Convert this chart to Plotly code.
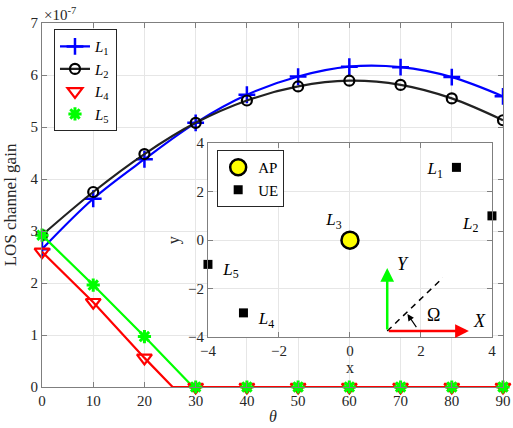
import plotly.graph_objects as go

# main plot data (gain in units of 1e-7)
theta = [0, 10, 20, 30, 40, 50, 60, 70, 80, 90]
gain_L1 = [2.65, 3.62, 4.38, 5.08, 5.62, 5.97, 6.16, 6.15, 5.96, 5.59]
gain_L2 = [2.92, 3.75, 4.48, 5.08, 5.51, 5.78, 5.89, 5.81, 5.55, 5.13]
gain_L4 = [2.60, 1.63, 0.56, 0, 0, 0, 0, 0, 0, 0]
gain_L5 = [2.92, 1.96, 0.97, 0, 0, 0, 0, 0, 0, 0]
# same curves with the point where they reach zero
theta_L4_line = [0, 10, 20, 25.5, 30, 40, 50, 60, 70, 80, 90]
gain_L4_line = [2.60, 1.63, 0.56, 0, 0, 0, 0, 0, 0, 0, 0]
theta_L5_line = [0, 10, 20, 29.5, 30, 40, 50, 60, 70, 80, 90]
gain_L5_line = [2.92, 1.96, 0.97, 0, 0, 0, 0, 0, 0, 0, 0]

# inset layout data
ap_x = [0]
ap_y = [0]
ue_x = [3, 4, -3, -4]
ue_y = [3, 1, -3, -1]
label_text = ["<i>L</i><sub>1</sub>", "<i>L</i><sub>2</sub>", "<i>L</i><sub>3</sub>",
              "<i>L</i><sub>4</sub>", "<i>L</i><sub>5</sub>"]
label_x = [2.4, 3.4, -0.45, -2.35, -3.35]
label_y = [2.9, 0.65, 0.8, -3.3, -1.25]

FONT = "Times New Roman"
AXC = "#262626"

fig = go.Figure()

fig.add_trace(go.Scatter(x=theta, y=gain_L1, mode="lines+markers", line=dict(color="#0000ff", width=2.2, shape="spline"),
                         marker=dict(symbol="cross-thin-open", size=12, color="#0000ff", line=dict(color="#0000ff", width=2.5)),
                         name="<i>L</i><sub>1</sub>"))
fig.add_trace(go.Scatter(x=theta, y=gain_L2, mode="lines+markers", line=dict(color="#222222", width=2.2, shape="spline"),
                         marker=dict(symbol="circle-open", size=10, color="#000000", line=dict(color="#000000", width=2.2)),
                         name="<i>L</i><sub>2</sub>"))
fig.add_trace(go.Scatter(x=theta_L5_line, y=gain_L5_line, mode="lines", line=dict(color="#00ff00", width=2.2),
                         showlegend=False, cliponaxis=False))
fig.add_trace(go.Scatter(x=theta_L4_line, y=gain_L4_line, mode="lines", line=dict(color="#ff0000", width=2.2),
                         showlegend=False, cliponaxis=False))
fig.add_trace(go.Scatter(x=theta, y=gain_L4, mode="markers", cliponaxis=False,
                         marker=dict(symbol="triangle-down-open", size=13, color="#ff0000",
                                     line=dict(color="#ff0000", width=2.2)),
                         name="<i>L</i><sub>4</sub>"))
fig.add_trace(go.Scatter(x=theta, y=gain_L5, mode="markers", cliponaxis=False,
                         marker=dict(symbol="asterisk-open", size=11, color="#00ff00",
                                     line=dict(color="#00ff00", width=3)),
                         name="<i>L</i><sub>5</sub>"))

# inset
fig.add_trace(go.Scatter(x=ap_x, y=ap_y, mode="markers", xaxis="x2", yaxis="y2", legend="legend2", name="AP",
                         marker=dict(symbol="circle", size=17, color="#ffff00", line=dict(color="#000000", width=2.5))))
fig.add_trace(go.Scatter(x=ue_x, y=ue_y, mode="markers", xaxis="x2", yaxis="y2", legend="legend2", name="UE",
                         cliponaxis=False, marker=dict(symbol="square", size=9, color="#000000")))
fig.add_trace(go.Scatter(x=label_x, y=label_y, mode="text", text=label_text, xaxis="x2", yaxis="y2",
                         showlegend=False, cliponaxis=False,
                         textfont=dict(family=FONT, size=17, color="#000000")))
# dashed reference line of the coordinate sketch
fig.add_trace(go.Scatter(x=[1.05, 2.62], y=[-3.75, -1.55], mode="lines", xaxis="x2", yaxis="y2",
                         showlegend=False, line=dict(color="#000000", width=1.5, dash="6px,5px")))

arrows = [
    dict(x=1.05, y=-1.15, ax=1.05, ay=-3.75, color="#00ff00", w=2.5),
    dict(x=3.35, y=-3.75, ax=1.05, ay=-3.75, color="#ff0000", w=2.5),
    dict(x=1.62, y=-3.05, ax=1.9, ay=-3.65, color="#000000", w=1.2),
]
for a in arrows:
    fig.add_annotation(x=a["x"], y=a["y"], ax=a["ax"], ay=a["ay"], xref="x2", yref="y2", axref="x2", ayref="y2",
                       showarrow=True, arrowhead=2, arrowsize=1.1, arrowwidth=a["w"], arrowcolor=a["color"], text="")

for txt, x, y in [("<i>Y</i>", 1.5, -1.0), ("<i>X</i>", 3.65, -3.35), ("Ω", 2.35, -3.1)]:
    fig.add_annotation(x=x, y=y, xref="x2", yref="y2", text=txt, showarrow=False,
                       font=dict(family=FONT, size=18, color="#000000"))

fig.add_annotation(x=0, y=1, xref="paper", yref="paper", xanchor="left", yanchor="bottom", yshift=-2,
                   text="×10<sup>-7</sup>", showarrow=False, font=dict(family=FONT, size=15, color=AXC))
fig.add_annotation(x=0.5, y=0, xref="paper", yref="paper", xanchor="center", yanchor="bottom", yshift=-40,
                   text="<i>θ</i>", showarrow=False, font=dict(family=FONT, size=16, color=AXC))

axis_common = dict(showline=True, linecolor="#7f7f7f", linewidth=1, mirror="ticks", ticks="inside", ticklen=5,
                   tickcolor="#7f7f7f", showgrid=True, gridcolor="#e6e6e6", zeroline=False, automargin=False,
                   tickfont=dict(family=FONT, size=15, color=AXC))

fig.update_layout(
    width=513, height=428,
    margin=dict(l=42, r=10, t=23, b=41),
    paper_bgcolor="white", plot_bgcolor="white",
    font=dict(family=FONT, color=AXC),
    xaxis=dict(axis_common, range=[0, 90], tickvals=theta, domain=[0, 1]),
    yaxis=dict(axis_common, range=[0, 7], tickvals=[0, 1, 2, 3, 4, 5, 6, 7], domain=[0, 1],
               title=dict(text="LOS channel gain", font=dict(family=FONT, size=17), standoff=9)),
    xaxis2=dict(axis_common, anchor="y2", range=[-4, 4], tickvals=[-4, -2, 0, 2, 4], domain=[0.360, 0.976],
                title=dict(text="x", font=dict(family=FONT, size=16), standoff=0)),
    yaxis2=dict(axis_common, anchor="x2", range=[-4, 4], tickvals=[-4, -2, 0, 2, 4], domain=[0.137, 0.670],
                title=dict(text="y", font=dict(family=FONT, size=16), standoff=4)),
    legend=dict(x=0.026, y=0.983, xanchor="left", yanchor="top", bgcolor="white", bordercolor="#262626",
                borderwidth=1, font=dict(family=FONT, size=15, color="#000000"), traceorder="normal",
                itemwidth=30, tracegroupgap=0),
    legend2=dict(x=0.380, y=0.651, xref="paper", yref="paper", xanchor="left", yanchor="top", bgcolor="white",
                 bordercolor="#262626", borderwidth=1, font=dict(family=FONT, size=15, color="#000000"),
                 itemwidth=30),
    showlegend=True,
)

# drop the page's default body margin so the figure sits at the window corner
fig.write_html("out.html", config={"displayModeBar": False},
               post_script="document.body.style.margin='0';")
